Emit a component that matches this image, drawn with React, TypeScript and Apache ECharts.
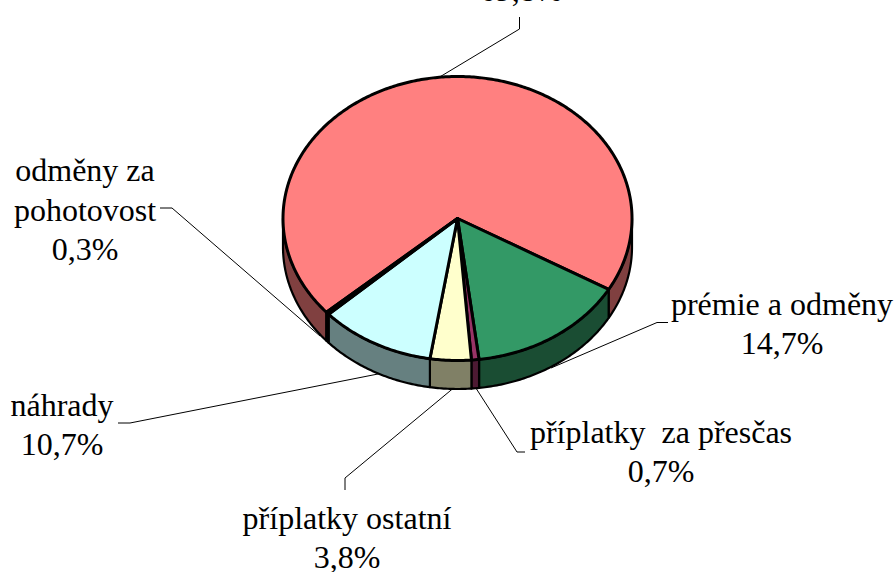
import React, { useEffect, useRef } from "react";
import * as echarts from "echarts";

const categories = ["", "prémie a odměny", "příplatky  za přesčas", "příplatky ostatní", "náhrady", "odměny za\npohotovost"];
const shares = [69.8, 14.7, 0.7, 3.8, 10.7, 0.3];
const shareLabels = ["69,8%", "14,7%", "0,7%", "3,8%", "10,7%", "0,3%"];
const topColors = ["#FF8080", "#339966", "#993366", "#FFFFCC", "#CCFFFF", "#660066"];
const sideColors = ["#804040", "#1A4D33", "#4D1A33", "#808066", "#668080", "#330033"];

const CX = 457.5, CY = 218.5, RX = 174.5, RY = 142, DEPTH = 28.5;
const START = 228.7;
const TOTAL = shares.reduce((a, b) => a + b, 0);
const rad = (d: number) => (d * Math.PI) / 180;
const pt = (a: number, dy = 0): number[] => [CX + RX * Math.sin(rad(a)), CY - RY * Math.cos(rad(a)) + dy];

function range(i: number): number[] {
  let before = 0;
  for (let k = 0; k < i; k++) before += shares[k];
  return [START + (before / TOTAL) * 360, START + ((before + shares[i]) / TOTAL) * 360];
}
function arc(a: number, b: number, dy = 0): number[][] {
  const pts: number[][] = [];
  const n = Math.max(2, Math.ceil((b - a) * 1.5));
  for (let j = 0; j <= n; j++) pts.push(pt(a + ((b - a) * j) / n, dy));
  return pts;
}
// Visible wall pieces: parts of the slice lying on the front half (90..270 degrees, clockwise from the top).
function walls(a: number, b: number): number[][] {
  const out: number[][] = [];
  for (const off of [0, 360]) {
    const lo = Math.max(a, 90 + off), hi = Math.min(b, 270 + off);
    if (hi > lo) out.push([lo, hi]);
  }
  return out;
}

const labelLayout = [
  { x: 521, y: -10 },
  { x: 782, y: 323.5 },
  { x: 661, y: 451.5 },
  { x: 347, y: 537.5 },
  { x: 62, y: 424.5 },
  { x: 85, y: 209.5 },
];
// Each leader runs on underneath the pie, which is drawn over its end.
const leaders: number[][][] = [
  [[519.5, 17], [519.5, 29], [433, 81]],
  [[668, 322.5], [657, 322.5], [551, 368]],
  [[525, 452], [517, 452], [472, 382]],
  [[345, 490], [345, 478], [456, 386]],
  [[118, 423], [130, 423], [383, 373]],
  [[160, 208], [172, 208], [320, 336]],
];

export default function App() {
  const ref = useRef<HTMLDivElement>(null);
  useEffect(() => {
    document.body.style.margin = "0";
    const chart = echarts.init(ref.current!, null, { renderer: "svg" });
    const data = shares.map((v) => [v]);
    const renderWalls = (params: any) => {
      const [a, b] = range(params.dataIndex);
      return {
        type: "group",
        children: walls(a, b).map(([lo, hi]) => ({
          type: "polygon",
          shape: { points: [...arc(lo, hi), ...arc(lo, hi, DEPTH).reverse()] },
          style: { fill: sideColors[params.dataIndex], stroke: "#000", lineWidth: 2.2, lineJoin: "round" },
        })),
      };
    };
    const renderTop = (params: any) => {
      const [a, b] = range(params.dataIndex);
      return {
        type: "polygon",
        shape: { points: [[CX, CY], ...arc(a, b)] },
        style: { fill: topColors[params.dataIndex], stroke: "#000", lineWidth: 3, lineJoin: "round" },
      };
    };
    chart.setOption({
      animation: false,
      backgroundColor: "#fff",
      series: [
        { type: "custom", coordinateSystem: "none", renderItem: renderWalls, data, silent: true, z: 2 },
        { type: "custom", coordinateSystem: "none", renderItem: renderTop, data, silent: true, z: 3 },
      ],
      graphic: [
        ...leaders.map((points) => ({
          type: "polyline",
          z: 1,
          silent: true,
          shape: { points },
          style: { stroke: "#000", lineWidth: 1, fill: "none" },
        })),
        ...categories.map((name, i) => ({
          type: "text",
          z: 5,
          silent: true,
          x: labelLayout[i].x,
          y: labelLayout[i].y,
          style: {
            text: name ? `${name}\n${shareLabels[i]}` : shareLabels[i],
            align: "center",
            verticalAlign: "middle",
            font: '32px "Liberation Serif"',
            lineHeight: 39.5,
            fill: "#000",
          },
        })),
      ],
    });
    return () => chart.dispose();
  }, []);
  return <div ref={ref} style={{ position: "fixed", left: 0, top: 0, width: 896, height: 572 }} />;
}
